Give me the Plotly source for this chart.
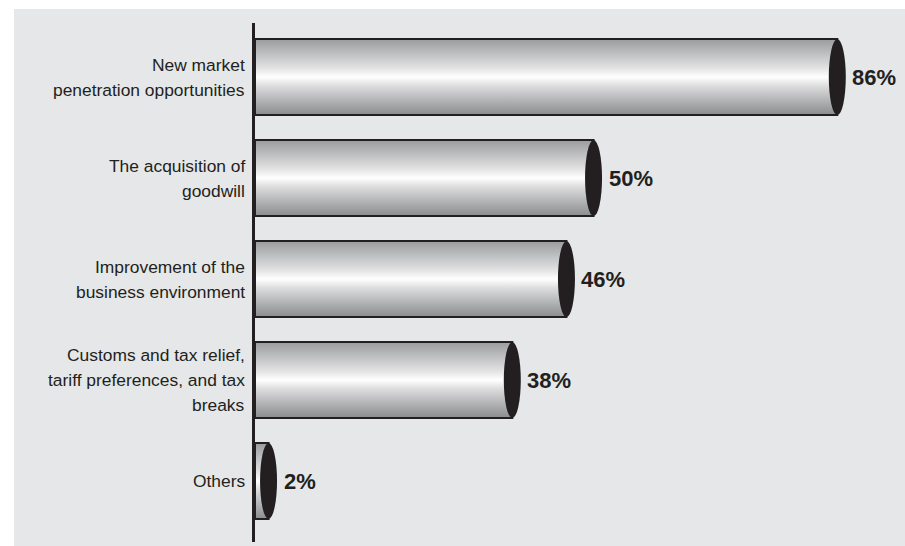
import plotly.graph_objects as go

# ---- data (top to bottom) ----
categories = [
    "New market<br>penetration opportunities",
    "The acquisition of<br>goodwill",
    "Improvement of the<br>business environment",
    "Customs and tax relief,<br>tariff preferences, and tax<br>breaks",
    "Others",
]
values = [86, 50, 46, 38, 2]
value_labels = ["86%", "50%", "46%", "38%", "2%"]

# ---- styling ----
W, H = 905, 546
ML, MR, MT, MB = 255, 0, 23, 4
PW, PH = W - ML - MR, H - MT - MB
X_MAX = 96.0
Y_MIN, Y_MAX = -0.604, 4.535
px_per_x = PW / X_MAX
px_per_y = PH / (Y_MAX - Y_MIN)
HALF_H = 38 / px_per_y
CAP_HALF_W = 8.5 / px_per_x
DARK = "#231f20"
BG = "#e6e7e8"
FONT = "Liberation Sans, Arial, sans-serif"
LINE_SPACING = 25

gradient = [
    [0.0, "#8b8c8e"],
    [0.18, "#b0b1b3"],
    [0.38, "#dcdcdd"],
    [0.5, "#ffffff"],
    [0.62, "#e2e2e3"],
    [0.82, "#bcbdbf"],
    [1.0, "#9a9b9d"],
]

n = len(categories)
ypos = [n - 1 - i for i in range(n)]

fig = go.Figure()
top_y = 1 + (MT - 9) / PH
left_x = (14 - ML) / PW
shapes = [
    # white frame strips (top and left) around the grey panel
    dict(type="rect", xref="paper", yref="paper",
         x0=-ML / PW - 0.05, x1=left_x, y0=-0.1, y1=1 + MT / PH + 0.1,
         fillcolor="white", line=dict(width=0), layer="below"),
    dict(type="rect", xref="paper", yref="paper",
         x0=-ML / PW - 0.05, x1=1.1, y0=top_y, y1=1 + MT / PH + 0.1,
         fillcolor="white", line=dict(width=0), layer="below"),
]
annotations = []

for cat, v, lab, y in zip(categories, values, value_labels, ypos):
    y0, y1 = y - HALF_H, y + HALF_H
    fig.add_trace(go.Scatter(
        x=[0, v, v, 0, 0], y=[y0, y0, y1, y1, y0],
        mode="lines", fill="toself",
        fillgradient=dict(type="vertical", colorscale=gradient),
        line=dict(color=DARK, width=2),
        hoverinfo="skip", showlegend=False,
    ))
    shapes.append(dict(type="circle", xref="x", yref="y",
                       x0=v - CAP_HALF_W, x1=v + CAP_HALF_W, y0=y0, y1=y1,
                       fillcolor=DARK, line=dict(width=0), layer="above"))
    annotations.append(dict(x=v, y=y, xref="x", yref="y", text=lab,
                            showarrow=False, xanchor="left", yanchor="middle",
                            xshift=13,
                            font=dict(family=FONT, size=22, color=DARK, weight=700)))
    lines = cat.split("<br>")
    k = len(lines)
    for i, ln in enumerate(lines):
        annotations.append(dict(x=0, y=y, xref="paper", yref="y", text=ln,
                                showarrow=False, xanchor="right", yanchor="middle",
                                xshift=-8, yshift=((k - 1) / 2 - i) * LINE_SPACING,
                                font=dict(family=FONT, size=17.4, color=DARK)))

fig.update_layout(
    width=W, height=H,
    margin=dict(l=ML, r=MR, t=MT, b=MB, pad=0),
    paper_bgcolor=BG, plot_bgcolor="rgba(0,0,0,0)",
    shapes=shapes, annotations=annotations,
    xaxis=dict(range=[0, X_MAX], visible=False, fixedrange=True),
    yaxis=dict(range=[Y_MIN, Y_MAX], showline=True, linecolor=DARK, linewidth=2.5,
               showticklabels=False, showgrid=False, zeroline=False, ticks="",
               fixedrange=True),
)

fig.write_html(
    "out.html",
    config={"displayModeBar": False},
    post_script=("document.body.style.margin='0';"
                 "document.body.style.overflow='hidden';"
                 "document.body.style.background='" + BG + "';"),
)
